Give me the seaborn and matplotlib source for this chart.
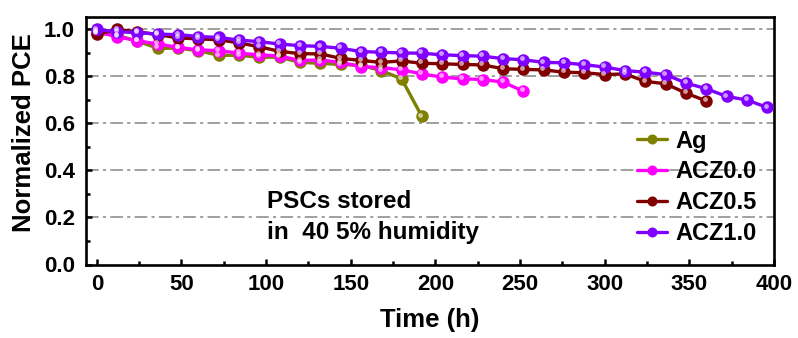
import numpy as np
import pandas as pd
import matplotlib
matplotlib.use("Agg")
import matplotlib.pyplot as plt
import matplotlib.transforms as mtransforms
from matplotlib.ticker import MultipleLocator
import seaborn as sns

step_h = 12
ag = [0.985, 0.975, 0.95, 0.92, 0.92, 0.91, 0.89, 0.89, 0.882, 0.882, 0.86,
      0.856, 0.851, 0.847, 0.825, 0.79, 0.63]
acz00 = [0.99, 0.969, 0.952, 0.938, 0.924, 0.913, 0.91, 0.899, 0.892, 0.887,
         0.868, 0.87, 0.86, 0.842, 0.838, 0.828, 0.811, 0.797, 0.79, 0.787,
         0.776, 0.737]
acz05 = [0.98, 1.0, 0.99, 0.978, 0.964, 0.96, 0.956, 0.943, 0.926, 0.907,
         0.897, 0.896, 0.877, 0.868, 0.86, 0.866, 0.856, 0.854, 0.851, 0.849,
         0.833, 0.83, 0.828, 0.818, 0.816, 0.808, 0.811, 0.779, 0.769, 0.729,
         0.696]
acz10 = [1.0, 0.99, 0.987, 0.98, 0.978, 0.97, 0.966, 0.955, 0.948, 0.938,
         0.931, 0.928, 0.92, 0.906, 0.903, 0.90, 0.899, 0.892, 0.889, 0.886,
         0.876, 0.871, 0.86, 0.858, 0.85, 0.84, 0.825, 0.818, 0.808, 0.772,
         0.748, 0.715, 0.70, 0.668]

series_names = ["Ag", "ACZ0.0", "ACZ0.5", "ACZ1.0"]
series_vals = [ag, acz00, acz05, acz10]
colors = ["#808000", "#FF00FF", "#800000", "#8000FF"]
yticks = [0.0, 0.2, 0.4, 0.6, 0.8, 1.0]
ytick_labels = ["0.0", "0.2", "0.4", "0.6", "0.8", "1.0"]

rows = []
for name, vals in zip(series_names, series_vals):
    for i, v in enumerate(vals):
        rows.append({"Time": i * step_h, "PCE": v, "Sample": name})
df = pd.DataFrame(rows)

sns.set_style("ticks")
plt.rcParams["font.family"] = ["Liberation Sans", "DejaVu Sans"]
plt.rcParams["font.weight"] = "bold"
plt.rcParams["text.color"] = "black"
plt.rcParams["axes.labelcolor"] = "black"
plt.rcParams["xtick.color"] = "black"
plt.rcParams["ytick.color"] = "black"
plt.rcParams["axes.edgecolor"] = "black"

W, H = 798, 338
L, R, T, B = 86, 774, 17, 264.5
fig = plt.figure(figsize=(W / 100, H / 100), dpi=100)
ax = fig.add_axes([L / W, 1 - B / H, (R - L) / W, (B - T) / H])

for y in yticks[1:]:
    ax.axhline(y, color="#a0a0a0", lw=1.4, ls=(0, (6.5, 2.2, 1.6, 2.2)), zorder=0)

for name, col in zip(series_names, colors):
    sub = df[df["Sample"] == name]
    sns.lineplot(data=sub, x="Time", y="PCE", ax=ax, color=col, lw=2.4,
                 marker="o", markersize=9, markeredgewidth=0, label=name,
                 zorder=3)
    off = mtransforms.offset_copy(ax.transData, fig=fig, x=-1.0, y=1.3, units="points")
    ax.plot(sub["Time"], sub["PCE"], ls="none", marker="o", markersize=3.5,
            color="white", alpha=0.6, markeredgewidth=0, transform=off, zorder=4)

ax.set_xlim(-6.4, 400)
ax.set_ylim(0, 1.053)
ax.xaxis.set_major_locator(MultipleLocator(50))
ax.xaxis.set_minor_locator(MultipleLocator(25))
ax.set_yticks(yticks)
ax.set_yticklabels(ytick_labels)
ax.yaxis.set_minor_locator(MultipleLocator(0.1))
ax.tick_params(which="major", direction="in", length=4.5, width=1.8,
               labelsize=16)
ax.tick_params(axis="x", which="major", pad=7)
ax.tick_params(axis="y", which="major", pad=8)
ax.tick_params(which="minor", direction="in", length=2.8, width=1.8)
for lab in ax.get_xticklabels() + ax.get_yticklabels():
    lab.set_fontweight("bold")
for sp in ax.spines.values():
    sp.set_linewidth(1.9)

ax.set_xlabel("Time (h)", fontsize=18.5, fontweight="bold")
ax.set_ylabel("Normalized PCE", fontsize=18.5, fontweight="bold")
ax.xaxis.set_label_coords(0.5, -0.175)
ax.yaxis.set_label_coords(-0.072, 0.535)

ax.text(100.5, 0.240, "PSCs stored", fontsize=17.5, fontweight="bold",
        ha="left", va="baseline")
ax.text(100.5, 0.1085, "in  40 5% humidity", fontsize=17.5, fontweight="bold",
        ha="left", va="baseline")

leg = ax.legend(loc="upper left", bbox_to_anchor=(0.801, 0.545), frameon=False,
                fontsize=17, handlelength=1.27, handletextpad=0.34,
                labelspacing=0.33, borderaxespad=0, borderpad=0, markerscale=0.8)
for t in leg.get_texts():
    t.set_fontweight("bold")

fig.savefig("out.png", dpi=100)
